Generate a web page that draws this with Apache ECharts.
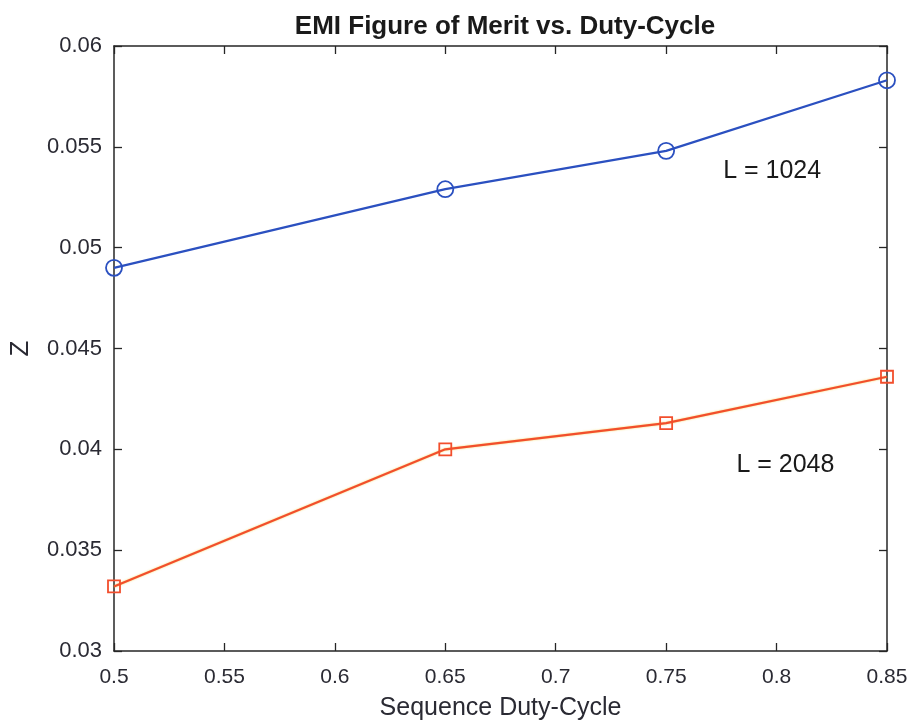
<!DOCTYPE html>
<html><head><meta charset="utf-8">
<script src="https://cdn.jsdelivr.net/npm/echarts@6/dist/echarts.min.js"></script>
<style>html,body{margin:0;padding:0;background:#fff}#c{width:916px;height:723px}</style>
</head><body><div id="c"></div>
<script>
const dutyCycle = [0.5, 0.65, 0.75, 0.85];
const z1024 = [0.0490, 0.0529, 0.0548, 0.0583];
const z2048 = [0.0332, 0.0400, 0.0413, 0.0436];
const xTicks = [0.5, 0.55, 0.6, 0.65, 0.7, 0.75, 0.8, 0.85];
const yTicks = [0.03, 0.035, 0.04, 0.045, 0.05, 0.055, 0.06];
const label1024 = {text: 'L = 1024', x: 0.798, y: 0.0538};
const label2048 = {text: 'L = 2048', x: 0.804, y: 0.0392};

const FONT = '"Liberation Sans", Arial, Helvetica, sans-serif';
const AX = '#262626';
const TXT = '#2a2a33';
const chart = echarts.init(document.getElementById('c'));
const axisCommon = {
  axisLine: {show: true, onZero: false, lineStyle: {color: AX, width: 1.5}},
  axisTick: {show: true, inside: true, length: 8, lineStyle: {color: AX, width: 1.3}},
  splitLine: {show: false}
};
function fmt(v){ return String(+v.toFixed(3)); }
function ann(l){
  return {
    symbol: 'circle', symbolSize: 0,
    data: [{coord: [l.x, l.y], value: l.text,
      label: {show: true, position: 'inside', formatter: l.text, color: '#1a1a1a',
        fontSize: 25, fontFamily: FONT}}]
  };
}
chart.setOption({
  backgroundColor: '#fff',
  animation: false,
  title: {text: 'EMI Figure of Merit vs. Duty-Cycle', left: 500, textAlign: 'center', top: 9,
    textStyle: {fontFamily: FONT, fontWeight: 'bold', fontSize: 26, color: '#1a1a1a'}},
  grid: {left: 114, right: 29, top: 46, bottom: 72, containLabel: false, outerBoundsMode: 'none'},
  xAxis: [
    Object.assign({type: 'value', min: 0.5, max: 0.85, interval: 0.05, position: 'bottom',
      name: 'Sequence Duty-Cycle', nameLocation: 'middle', nameGap: 45,
      nameTextStyle: {fontFamily: FONT, fontSize: 25, color: TXT},
      axisLabel: {fontFamily: FONT, fontSize: 21, color: TXT, margin: 16,
        formatter: v => xTicks.includes(+v.toFixed(2)) ? fmt(v) : ''}}, axisCommon),
    Object.assign({type: 'value', min: 0.5, max: 0.85, interval: 0.05, position: 'top',
      axisLabel: {show: false}}, axisCommon)
  ],
  yAxis: [
    Object.assign({type: 'value', min: 0.03, max: 0.06, interval: 0.005, position: 'left',
      name: 'Z', nameLocation: 'middle', nameGap: 80, nameRotate: 90,
      nameTextStyle: {fontFamily: FONT, fontSize: 26, color: TXT},
      axisLabel: {fontFamily: FONT, fontSize: 22, color: TXT, margin: 12,
        formatter: v => yTicks.some(t => Math.abs(t - v) < 1e-9) ? fmt(v) : ''}}, axisCommon),
    Object.assign({type: 'value', min: 0.03, max: 0.06, interval: 0.005, position: 'right',
      axisLabel: {show: false}}, axisCommon)
  ],
  series: [
    {type: 'line', name: 'L = 1024', data: dutyCycle.map((x, i) => [x, z1024[i]]),
      symbol: 'circle', symbolSize: 16, clip: false, z: 3,
      itemStyle: {color: 'rgba(0,0,0,0)', borderColor: '#2b50c0', borderWidth: 1.8},
      lineStyle: {color: '#2b50c0', width: 2.2},
      markPoint: ann(label1024)},
    {type: 'line', name: 'L = 2048', data: dutyCycle.map((x, i) => [x, z2048[i]]),
      symbol: 'rect', symbolSize: 12, clip: false, z: 3,
      itemStyle: {color: 'rgba(0,0,0,0)', borderColor: '#f24e2c', borderWidth: 1.8},
      lineStyle: {color: '#f24e2c', width: 2.2, shadowColor: 'rgba(240,200,40,0.7)', shadowBlur: 2},
      markPoint: ann(label2048)}
  ]
});
</script></body></html>
